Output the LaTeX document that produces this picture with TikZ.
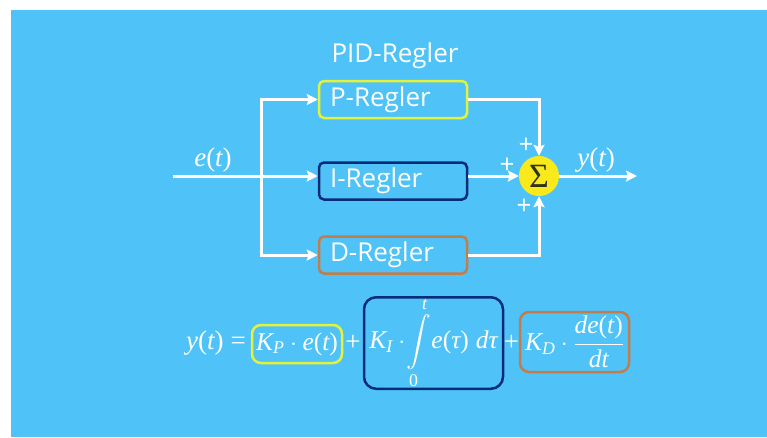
\documentclass[tikz,border=0pt]{standalone}
\usepackage{amsmath}
\usepackage[no-math]{fontspec}
\setmainfont{Open Sans}
\newfontfamily\serifface{Liberation Serif}[NFSSFamily=lserif]
% italic Latin letters and upright digits/brackets in math from the serif face
\DeclareSymbolFont{letters}{TU}{lserif}{m}{it}
\DeclareSymbolFont{operators}{TU}{lserif}{m}{n}
\usetikzlibrary{arrows.meta}

\newcommand{\mtau}{\text{\serifface\itshape τ}}

\definecolor{bgblue}{HTML}{4FC3F7}
\definecolor{pyellow}{HTML}{E4F23C}
\definecolor{idarkblue}{HTML}{0A2C78}
\definecolor{dorange}{HTML}{C47C48}
\definecolor{sumyellow}{HTML}{FAEA1C}
\definecolor{sumglyph}{HTML}{33331C}

\tikzset{
  wire/.style={draw=white, line width=3pt},
  arr/.style={-{Stealth[length=11pt,width=11pt,inset=2pt]}},
  regbox/.style={rounded corners=5pt, line width=2.5pt, minimum width=148pt,
    minimum height=37pt, text width=126pt, align=left, inner xsep=11pt,
    inner ysep=0pt, text=white, font=\fontsize{26}{30}\selectfont},
  termbox/.style={rounded corners=9pt, line width=2.5pt, inner sep=0pt,
    text=white, font=\fontsize{25.5}{30}\selectfont},
  lbl/.style={text=white, inner sep=0pt, font=\fontsize{26}{30}\selectfont},
  mathlbl/.style={text=white, inner sep=0pt, font=\fontsize{27}{32}\selectfont},
  pm/.style={text=white, inner sep=0pt, font=\fontsize{26}{30}\selectfont},
}

\begin{document}
\begin{tikzpicture}[x=1pt, y=-1pt]
  % canvas and background panel
  \useasboundingbox (0,0) rectangle (767,437);
  \fill[white] (0,0) rectangle (767,437);
  \fill[bgblue] (11,10) rectangle (767,437);

  % title
  \node[lbl] (title) at (395,56) {PID-Regler};

  % controller blocks
  \node[regbox, draw=pyellow]   (P) at (393,99.5) {P-Regler};
  \node[regbox, draw=idarkblue] (I) at (393,181)  {I-Regler};
  \node[regbox, draw=dorange]   (D) at (393,255)  {D-Regler};

  % summing junction
  \node[circle, fill=sumyellow, minimum size=40pt, inner sep=0pt,
        text=sumglyph, font=\serifface\fontsize{34}{38}\selectfont] (S) at (539,176) {Σ};

  % input, branch point, output
  \coordinate (in)    at (173,176);
  \coordinate (split) at (261,176);
  \coordinate (out)   at (637,176);

  \node[mathlbl] (et) at (213,160) {$e(t)$};
  \node[mathlbl] (yt) at (596,160) {$y(t)$};

  % branches into the blocks
  \draw[wire] (in) -- (split);
  \draw[wire, arr] (split) -- (split -| I.west);
  \draw[wire, arr] (split) |- (P.west);
  \draw[wire, arr] (split) |- (D.west);

  % block outputs into the sum
  \draw[wire, arr] (P.east) -| (S.north);
  \draw[wire, arr] (I.east |- split) -- (S.west);
  \draw[wire, arr] (D.east) -| (S.south);
  \draw[wire, arr] (S.east) -- (out);

  % signs at the summing junction
  \node[pm] (sgnP) at (526,146) {+};
  \node[pm] (sgnI) at (507,166) {+};
  \node[pm] (sgnD) at (524,207) {+};

  % control law
  \node[mathlbl, anchor=east] (lhs) at (246,343) {$y(t) =$};
  \node[termbox, draw=pyellow, minimum width=90pt, minimum height=38pt]
       (kp) at (297,344) {$K_P\cdot e(t)$};
  \node[mathlbl] (plus1) at (353,343) {$+$};
  \node[termbox, draw=idarkblue, rounded corners=12pt, minimum width=139pt, minimum height=86pt]
       (ki) at (433.5,343) {$K_I\cdot\!\displaystyle\int\limits_0^t\! e(\mtau)\;d\mtau$};
  \node[mathlbl] (plus2) at (511.5,343) {$+$};
  \node[termbox, draw=dorange, minimum width=109pt, minimum height=60pt]
       (kd) at (574.5,342) {$K_D\cdot\dfrac{de(t)}{dt}$};
\end{tikzpicture}
\end{document}
